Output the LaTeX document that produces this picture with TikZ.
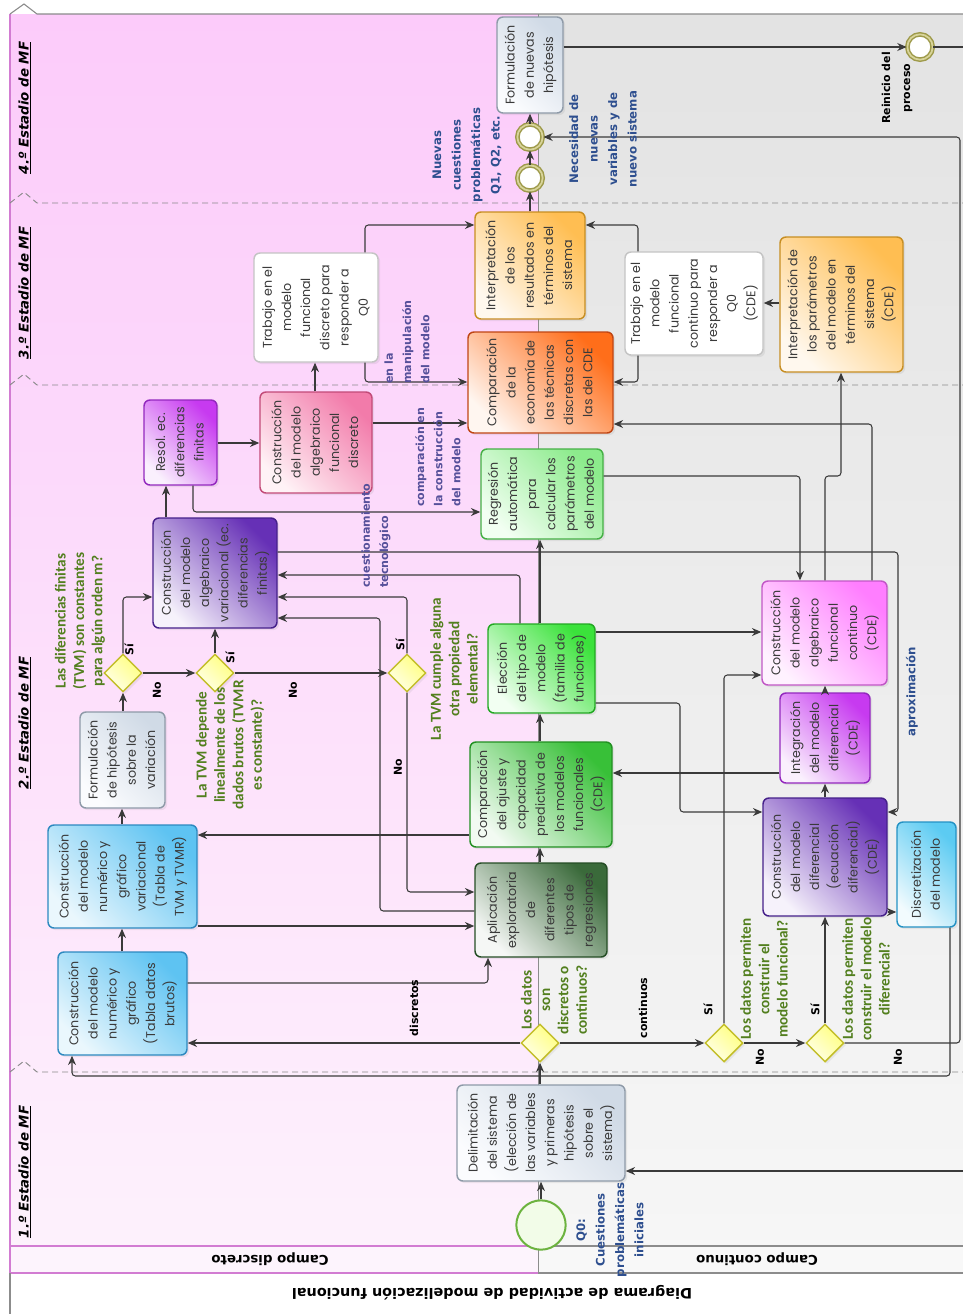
\documentclass[tikz,border=0pt]{standalone}
\usepackage{fontspec}
\setmainfont{Poppins}
\newfontfamily\lblf{Carlito}
\newfontfamily\djv{DejaVu Sans}
\usetikzlibrary{arrows.meta,shapes.geometric,shadows}

\definecolor{txt}{HTML}{3A3A3A}
\definecolor{lineg}{HTML}{3A3A3A}
\definecolor{pinktop}{HTML}{FCCBFA}
\definecolor{pinkbot}{HTML}{FDF1FC}
\definecolor{graytop}{HTML}{E3E3E3}
\definecolor{graybot}{HTML}{F6F6F6}
\definecolor{stripp}{HTML}{FDF4FD}
\definecolor{stripg}{HTML}{F8F8F8}
\definecolor{pinkedge}{HTML}{D27CD2}
\definecolor{grayedge}{HTML}{8C8C8C}
\definecolor{sepc}{HTML}{8A8A8A}
\definecolor{greenlbl}{HTML}{527F1E}
\definecolor{bluelbl}{HTML}{2E4F8F}
\definecolor{purplbl}{HTML}{56509A}
% node colours
\definecolor{grayE}{HTML}{8E9AA8}\definecolor{grayT}{HTML}{D0DAE6}\definecolor{grayB}{HTML}{FBFCFE}
\definecolor{blueE}{HTML}{2D89C0}\definecolor{blueT}{HTML}{5EC3F2}\definecolor{blueB}{HTML}{EAF7FD}
\definecolor{purpE}{HTML}{45208A}\definecolor{purpT}{HTML}{6630B6}\definecolor{purpB}{HTML}{F6F2FB}
\definecolor{violE}{HTML}{9328BE}\definecolor{violT}{HTML}{C73AF0}\definecolor{violB}{HTML}{FAF0FD}
\definecolor{pinkE}{HTML}{C24A78}\definecolor{pinkT}{HTML}{F27BAA}\definecolor{pinkB}{HTML}{FFF2F6}
\definecolor{magE}{HTML}{C157C6}\definecolor{magT}{HTML}{FF7EFF}\definecolor{magB}{HTML}{FFF2FF}
\definecolor{whiteE}{HTML}{C4C4C4}
\definecolor{orE}{HTML}{C78E22}\definecolor{orT}{HTML}{FFBE52}\definecolor{orB}{HTML}{FFF8EE}
\definecolor{redE}{HTML}{BF4614}\definecolor{redT}{HTML}{FF6E1A}\definecolor{redB}{HTML}{FFF6F0}
\definecolor{lgrE}{HTML}{45B045}\definecolor{lgrT}{HTML}{8CEB8C}\definecolor{lgrB}{HTML}{F2FFF2}
\definecolor{bgrE}{HTML}{22A822}\definecolor{bgrT}{HTML}{3BE23B}\definecolor{bgrB}{HTML}{F2FFF2}
\definecolor{grE}{HTML}{218F21}\definecolor{grT}{HTML}{38C038}\definecolor{grB}{HTML}{F2FAF2}
\definecolor{dgrE}{HTML}{254D25}\definecolor{dgrT}{HTML}{3A6A3A}\definecolor{dgrB}{HTML}{F5F7F5}
\definecolor{lbE}{HTML}{2492C4}\definecolor{lbT}{HTML}{5CCBF2}\definecolor{lbB}{HTML}{F2FBFE}
\definecolor{diaE}{HTML}{C3BE2A}\definecolor{diaT}{HTML}{FFFF80}\definecolor{diaB}{HTML}{FFFFE8}
\definecolor{evE}{HTML}{9E9A4A}\definecolor{evD}{HTML}{D8D49A}
\definecolor{stE}{HTML}{6CB33F}\definecolor{stF}{HTML}{F2FCE8}

\newcommand\rt[1]{\rotatebox{90}{\begin{tabular}{@{}c@{}}#1\end{tabular}}}
\newcommand\mybox[7]{\node[#6, minimum width={(#4-#2)*0.75pt}, minimum height={(#5-#3)*0.75pt}] (#1) at ({(#2+#4)/2},{(#3+#5)/2}) {\rt{#7}};}

\tikzset{
  box/.style={rectangle, rounded corners=4.5pt, inner sep=0pt, line width=1.1pt, text=txt, font=\fontsize{9.5}{14.4}\selectfont,
    drop shadow={shadow xshift=1.6pt, shadow yshift=-1.6pt, opacity=0.13}},
  fillbox/.style n args={3}{box, draw=#1, top color=#2, bottom color=#3, shading angle=-45},
  graybox/.style={fillbox={grayE}{grayT}{grayB}},
  bluebox/.style={fillbox={blueE}{blueT}{blueB}},
  purpbox/.style={fillbox={purpE}{purpT}{purpB}},
  violbox/.style={fillbox={violE}{violT}{violB}},
  pinkbox/.style={fillbox={pinkE}{pinkT}{pinkB}},
  magbox/.style={fillbox={magE}{magT}{magB}},
  whitebox/.style={box, draw=whiteE, fill=white},
  orbox/.style={fillbox={orE}{orT}{orB}},
  redbox/.style={fillbox={redE}{redT}{redB}},
  lgrbox/.style={fillbox={lgrE}{lgrT}{lgrB}},
  bgrbox/.style={fillbox={bgrE}{bgrT}{bgrB}},
  grbox/.style={fillbox={grE}{grT}{grB}},
  dgrbox/.style={fillbox={dgrE}{dgrT}{dgrB}},
  lbbox/.style={fillbox={lbE}{lbT}{lbB}},
  dia/.style={diamond, draw=diaE, line width=1.1pt, top color=diaT, bottom color=diaB, shading angle=-45, minimum width=28.5pt, minimum height=28.5pt, inner sep=0pt,
    drop shadow={shadow xshift=1.6pt, shadow yshift=-1.6pt, opacity=0.12}},
  midev/.style={circle, draw=evE, line width=1.1pt, double=evD, double distance=1.3pt, fill=white, minimum size=19pt, inner sep=0pt},
  startev/.style={circle, draw=stE, line width=1.5pt, fill=stF, minimum size=37pt, inner sep=0pt},
  conn/.style={draw=lineg, line width=0.8pt, rounded corners=2.5pt, -{Stealth[length=7pt,width=6pt]}},
  plain/.style={draw=lineg, line width=0.8pt, rounded corners=2.5pt},
  lblg/.style={rotate=90, align=center, inner sep=0pt, text=greenlbl, font=\lblf\bfseries\fontsize{11.4}{13.8}\selectfont},
  lblb/.style={rotate=90, align=center, inner sep=0pt, text=bluelbl, font=\djv\bfseries\fontsize{8.8}{14.6}\selectfont},
  lblp/.style={rotate=90, inner sep=0pt, text=purplbl, font=\djv\bfseries\fontsize{8.3}{13.6}\selectfont},
  lblk/.style={rotate=90, align=center, inner sep=0pt, text=black, font=\djv\bfseries\fontsize{8.2}{15}\selectfont},
  stagelbl/.style={rotate=90, inner sep=0pt, text=black, font=\djv\bfseries\itshape\fontsize{10}{12}\selectfont},
  lanelbl/.style={rotate=180, inner sep=0pt, text=black, font=\djv\bfseries\fontsize{10}{12}\selectfont}
}

\begin{document}
\begin{tikzpicture}[x=0.75pt,y=-0.75pt]
\useasboundingbox (0,0) rectangle (963,1314);

% ---------- lanes ----------
\shade[top color=pinktop,bottom color=pinkbot] (10,14) rectangle (538,1246);
\shade[top color=graytop,bottom color=graybot] (538,14) rectangle (963,1246);
\fill[stripp] (10,1246) rectangle (538,1273);
\fill[stripg] (538,1246) rectangle (963,1273);
\draw[pinkedge, line width=0.9pt] (10,14) -- (10,1273);
\draw[pinkedge, line width=0.9pt] (10,1246) -- (538,1246) (10,1273) -- (538,1273);
\draw[grayedge, line width=0.9pt] (538,1246) -- (963,1246) (538,1273) -- (963,1273);
\draw[grayedge, line width=0.6pt] (538,14) -- (538,1273);
\draw[grayedge, line width=0.9pt] (10,1273) -- (10,1314);
\draw[sepc, line width=0.8pt] (10,14) -- (24,4) -- (37,14) -- (963,14);
\foreach \yy in {203,385,1072}{
  \draw[sepc, line width=0.7pt, dash pattern=on 4.5pt off 3pt] (10,\yy) -- (24,{\yy-11}) -- (37,\yy) -- (963,\yy);
}

\node[stagelbl] (s4) at (25,108) {\underline{4.º Estadio de MF}};
\node[stagelbl] (s3) at (25,293) {\underline{3.º Estadio de MF}};
\node[stagelbl] (s2) at (25,723) {\underline{2.º Estadio de MF}};
\node[stagelbl] (s1) at (25,1172) {\underline{1.º Estadio de MF}};
\node[lanelbl] (ld) at (270,1259) {Campo discreto};
\node[lanelbl] (lc) at (757,1259) {Campo continuo};
\node[lanelbl, font=\djv\bfseries\fontsize{10.8}{12}\selectfont] (title) at (492,1293) {Diagrama de actividad de modelización funcional};

% ---------- nodes ----------
\node[startev] (start) at (541,1225) {};
\mybox{delim}{457}{1085}{625}{1181}{graybox}{Delimitación\\del sistema\\(elección de\\las variables\\y primeras\\hipótesis\\sobre el\\sistema)}
\node[dia] (dA) at (540,1043) {};
\node[dia] (dB) at (724,1043) {};
\node[dia] (dC) at (825,1043) {};
\mybox{tabla}{58}{952}{187}{1055}{bluebox}{Construcción\\del modelo\\numérico y\\gráfico\\(Tabla datos\\brutos)}
\mybox{tvm}{48}{825}{197}{928}{bluebox}{Construcción\\del modelo\\numérico y\\gráfico\\variacional\\(Tabla de\\TVM y TVMR)}
\mybox{hipo}{80}{712}{165}{808}{graybox}{Formulación\\de hipótesis\\sobre la\\variación}
\node[dia] (d1) at (123,673) {};
\node[dia] (d2) at (215,673) {};
\node[dia] (d3) at (407,673) {};
\mybox{var}{153}{518}{277}{628}{purpbox}{Construcción\\del modelo\\algebraico\\variacional (ec.\\diferencias\\finitas)}
\mybox{resol}{144}{400}{217}{485}{violbox}{Resol. ec.\\diferencias\\finitas}
\mybox{afd}{260}{392}{372}{493}{pinkbox}{Construcción\\del modelo\\algebraico\\funcional\\discreto}
\mybox{trd}{254}{253}{378}{362}{whitebox}{Trabajo en el\\modelo\\funcional\\discreto para\\responder a\\Q0}
\mybox{interp}{475}{212}{585}{319}{orbox}{Interpretación\\de los\\resultados en\\términos del\\sistema}
\node[midev] (ev1) at (530,178) {};
\node[midev] (ev2) at (530,137) {};
\mybox{nhip}{497}{17}{563}{113}{graybox}{Formulación\\de nuevas\\hipótesis}
\node[midev] (endev) at (920,47) {};
\mybox{trc}{625}{252}{763}{355}{whitebox}{Trabajo en el\\modelo\\funcional\\continuo para\\responder a\\Q0\\(CDE)}
\mybox{ipar}{780}{237}{903}{372}{orbox}{Interpretación de\\los parámetros\\del modelo en\\términos del\\sistema\\(CDE)}
\mybox{comp}{468}{332}{613}{433}{redbox}{Comparación\\de la\\economía de\\las técnicas\\discretas con\\las del CDE}
\mybox{regr}{481}{449}{603}{539}{lgrbox}{Regresión\\automática\\para\\calcular los\\parámetros\\del modelo}
\mybox{elec}{488}{624}{595}{713}{bgrbox}{Elección\\del tipo de\\modelo\\(familia de\\funciones)}
\mybox{ajuste}{470}{742}{612}{847}{grbox}{Comparación\\del ajuste y\\capacidad\\predictiva de\\los modelos\\funcionales\\(CDE)}
\mybox{aplic}{475}{863}{607}{957}{dgrbox}{Aplicación\\exploratoria\\de\\diferentes\\tipos de\\regresiones}
\mybox{afc}{762}{581}{887}{685}{magbox}{Construcción\\del modelo\\algebraico\\funcional\\continuo\\(CDE)}
\mybox{integ}{780}{693}{870}{783}{violbox}{Integración\\del modelo\\diferencial\\(CDE)}
\mybox{cdif}{763}{798}{887}{916}{purpbox}{Construcción\\del modelo\\diferencial\\(ecuación\\diferencial)\\(CDE)}
\mybox{discr}{897}{822}{956}{927}{lbbox}{Discretización\\del modelo}

\coordinate (edgeA) at (963,47);
\coordinate (edgeC) at (963,1171);

% ---------- connectors ----------
\draw[conn] (start.north) -- (start.north |- delim.south);
\draw[conn] (dA.south |- delim.north) -- (dA.south);
\draw[conn] (dA.west) -- (dA.west -| tabla.east);
\draw[conn] (dA.east) -- (dB.west);
\draw[conn] (dB.east) -- (dC.west);
\draw[conn] (dB.north) |- (afc.west |- 0,675);
\draw[conn] (dC.north) -- (dC.north |- cdif.south);
\draw[conn] (dC.east) -| (960,137) -- (ev2.east);
\draw[conn] (discr.south -| 950,0) -- (950,1076) -| (tabla.south -| 72,0);
\draw[conn] (tabla.north -| 122,0) -- (tvm.south -| 122,0);
\draw[conn] (tvm.north -| 122,0) -- (hipo.south -| 122,0);
\draw[conn] (d1.south |- hipo.north) -- (d1.south);
\draw[conn] (d1.east) -- (d2.west);
\draw[conn] (d1.north) |- (var.west |- 0,597);
\draw[conn] (d2.north) -- (d2.north |- var.south);
\draw[conn] (d2.east) -- (d3.west);
\draw[conn] (d3.north) |- (var.east |- 0,597);
\draw[conn] (d3.south) |- (aplic.west |- 0,892);
\draw[conn] (tabla.east |- 0,983) -| (aplic.south -| 488,0);
\draw[conn] (tvm.east |- 0,926) -- (aplic.west |- 0,926);
\draw[conn] (aplic.north -| 540,0) -- (ajuste.south -| 540,0);
\draw[conn] (ajuste.north -| 540,0) -- (elec.south -| 540,0);
\draw[conn] (elec.north -| 540,0) -- (regr.south -| 540,0);
\draw[conn] (ajuste.west |- 0,835) -- (tvm.east |- 0,835);
\draw[conn] (aplic.west |- 0,911) -| (380,618) -- (var.east |- 0,618);
\draw[conn] (elec.north -| 520,0) |- (var.east |- 0,575);
\draw[conn] (var.east |- 0,552) -| (898,812) -- (cdif.east |- 0,812);
\draw[conn] (var.north -| 166,0) -- (resol.south -| 166,0);
\draw[conn] (resol.east |- 0,443) -- (afd.west |- 0,443);
\draw[conn] (resol.south -| 193,0) |- (regr.west |- 0,512);
\draw[conn] (afd.north -| 315,0) -- (trd.south -| 315,0);
\draw[conn] (afd.east |- 0,423) -- (comp.west |- 0,423);
\draw[conn] (trd.north -| 365,0) |- (interp.west |- 0,225);
\draw[conn] (trd.south -| 365,0) |- (comp.west |- 0,382);
\draw[conn] (ev1.south |- interp.north) -- (ev1.south);
\draw[conn] (ev1.north) -- (ev2.south);
\draw[conn] (ev2.north) -- (ev2.north |- nhip.south);
\draw[conn] (nhip.east |- endev.west) -- (endev.west);
\draw[plain] (endev.east) -- (edgeA);
\draw[conn] (edgeC) -- (delim.east |- edgeC);
\draw[conn] (trc.north -| 638,0) |- (interp.east |- 0,225);
\draw[conn] (trc.south -| 638,0) |- (comp.east |- 0,382);
\draw[conn] (ipar.west |- 0,303) -- (trc.east |- 0,303);
\draw[conn] (afc.north -| 825,0) |- (841,476) -- (ipar.south -| 841,0);
\draw[conn] (regr.east |- 0,476) -| (afc.north -| 800,0);
\draw[conn] (afc.north -| 872,0) |- (comp.east |- 0,424);
\draw[conn] (elec.east |- 0,632) -- (afc.west |- 0,632);
\draw[conn] (elec.east |- 0,703) -| (680,812) -- (cdif.west |- 0,812);
\draw[conn] (integ.west |- 0,773) -- (ajuste.east |- 0,773);
\draw[conn] (integ.north -| 825,0) -- (afc.south -| 825,0);
\draw[conn] (cdif.north -| 825,0) -- (integ.south -| 825,0);
\draw[conn] (cdif.east |- 0,912) -- (discr.west |- 0,912);

% ---------- labels ----------
\node[lblb] (lq0) at (610,1230) {Q0:\\Cuestiones\\problemáticas\\iniciales};
\node[lblg] (la) at (554,1000) {Los datos\\son\\discretos o\\continuos?};
\node[lblk] (ldis) at (414,1008) {discretos};
\node[lblk] (lcon) at (643,1008) {continuos};
\node[lblk] (lbs) at (708,1010) {Sí};
\node[lblk] (lbn) at (760,1057) {No};
\node[lblg] (lb) at (764,979) {Los datos permiten\\construir el\\modelo funcional?};
\node[lblk] (lcs) at (815,1010) {Sí};
\node[lblk] (lcn) at (898,1057) {No};
\node[lblg] (lc2) at (866,979) {Los datos permiten\\construir el modelo\\diferencial?};
\node[lblg] (l1) at (80,621) {Las diferencias finitas\\(TVM) son constantes\\para algún orden m?};
\node[lblk] (l1s) at (129,650) {Sí};
\node[lblk] (l1n) at (157,690) {No};
\node[lblk] (l2s) at (230,658) {Sí};
\node[lblk] (l2n) at (293,690) {No};
\node[lblg] (l2) at (230,745) {La TVM depende\\linealmente de los\\dados brutos (TVMR\\es constante)?};
\node[lblk] (l3s) at (400,645) {Sí};
\node[lblk] (l3n) at (398,767) {No};
\node[lblg] (l3) at (454,669) {La TVM cumple alguna\\otra propiedad\\elemental?};
\node[lblp, anchor=west, align=left] (lct) at (376,588) {cuestionamiento\\tecnológico};
\node[lblp, anchor=west, align=left] (lcc) at (438,507) {comparación en\\la construcción\\del modelo};
\node[lblp, anchor=west, align=left] (lcm) at (407,384) {en la\\manipulación\\del modelo};
\node[lblb] (lap) at (912,692) {aproximación};
\node[lblb] (lnq) at (467,155) {Nuevas\\cuestiones\\problemáticas\\Q1, Q2, etc.};
\node[lblb] (lnv) at (603,139) {Necesidad de\\nuevas\\variables y de\\nuevo sistema};
\node[lblk] (lre) at (897,88) {Reinicio del\\proceso};
\end{tikzpicture}
\end{document}
